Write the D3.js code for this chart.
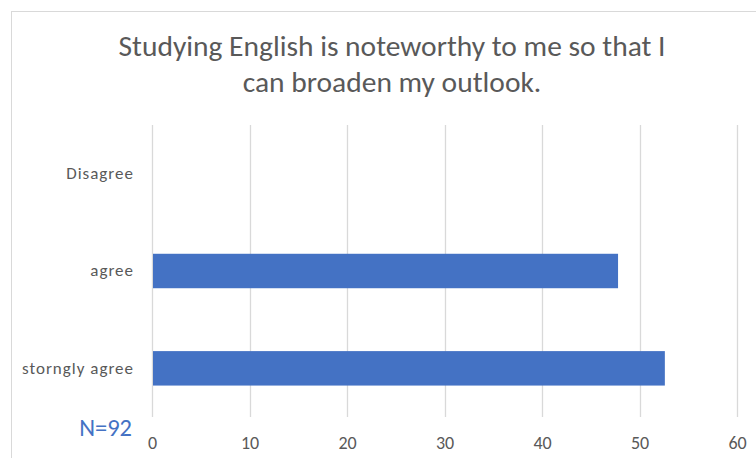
<!DOCTYPE html>
<html>
<head>
<meta charset="utf-8">
<script src="https://cdn.jsdelivr.net/npm/d3@7"></script>
<style>
  html, body { margin: 0; padding: 0; background: #fff; }
  svg { display: block; }
  text { font-family: Carlito, Lato, "Open Sans", sans-serif; }
</style>
</head>
<body>
<svg id="chart" width="756" height="458"></svg>
<script>
// Survey responses
const categories = ["Disagree", "agree", "storngly agree"];
const values = [0, 47.8, 52.6];
const tickValues = [0, 10, 20, 30, 40, 50, 60];
const titleLines = ["Studying English is noteworthy to me so that I", "can broaden my outlook."];
const sampleNote = "N=92";

const svg = d3.select("#chart");
const W = 756, H = 458;
const plot = { left: 152, right: 737, top: 125, bottom: 417 };

// chart frame
svg.append("rect")
  .attr("x", 11.5).attr("y", 11.5)
  .attr("width", W).attr("height", H)
  .attr("fill", "#fff").attr("stroke", "#d9d9d9").attr("stroke-width", 1);

const x = d3.scaleLinear().domain([0, 60]).range([plot.left, plot.right]);
const y = d3.scaleBand().domain(categories).range([plot.top, plot.bottom]).paddingInner(0.646).paddingOuter(0.323);

// title
svg.append("g").selectAll("text")
  .data(titleLines).join("text")
  .attr("x", 392).attr("y", (d, i) => 56 + i * 36)
  .attr("text-anchor", "middle")
  .attr("font-size", 29.5).attr("fill", "#595959")
  .text(d => d);

// vertical gridlines
svg.append("g").selectAll("line")
  .data(tickValues).join("line")
  .attr("x1", d => Math.round(x(d)) + 0.5).attr("x2", d => Math.round(x(d)) + 0.5)
  .attr("y1", plot.top).attr("y2", plot.bottom)
  .attr("stroke", "#d9d9d9").attr("stroke-width", 1.3);

// bars
svg.append("g").selectAll("rect")
  .data(categories.map((c, i) => ({ c, v: values[i] })).filter(d => d.v > 0))
  .join("rect")
  .attr("x", x(0) + 1)
  .attr("y", d => y(d.c))
  .attr("width", d => x(d.v) - x(0) - 1)
  .attr("height", y.bandwidth())
  .attr("fill", "#4472c4");

// value axis labels
const xAxis = d3.axisBottom(x).tickValues(tickValues).tickSize(0).tickPadding(0);
const gx = svg.append("g").attr("transform", `translate(0, 449)`).call(xAxis);
gx.select(".domain").remove();
gx.selectAll("text")
  .attr("font-family", null).attr("font-size", 18).attr("fill", "#595959")
  .attr("y", 0).attr("dy", 0);

// category labels
const yAxis = d3.axisLeft(y).tickSize(0).tickPadding(18);
const gy = svg.append("g").attr("transform", `translate(${plot.left}, 0)`).call(yAxis);
gy.select(".domain").remove();
gy.selectAll("text")
  .attr("font-family", null).attr("font-size", 17).attr("fill", "#595959")
  .attr("letter-spacing", 1);

// sample size note
svg.append("text")
  .attr("x", 132).attr("y", 436)
  .attr("text-anchor", "end")
  .attr("font-size", 24.5).attr("fill", "#4472c4")
  .text(sampleNote);
</script>
</body>
</html>
